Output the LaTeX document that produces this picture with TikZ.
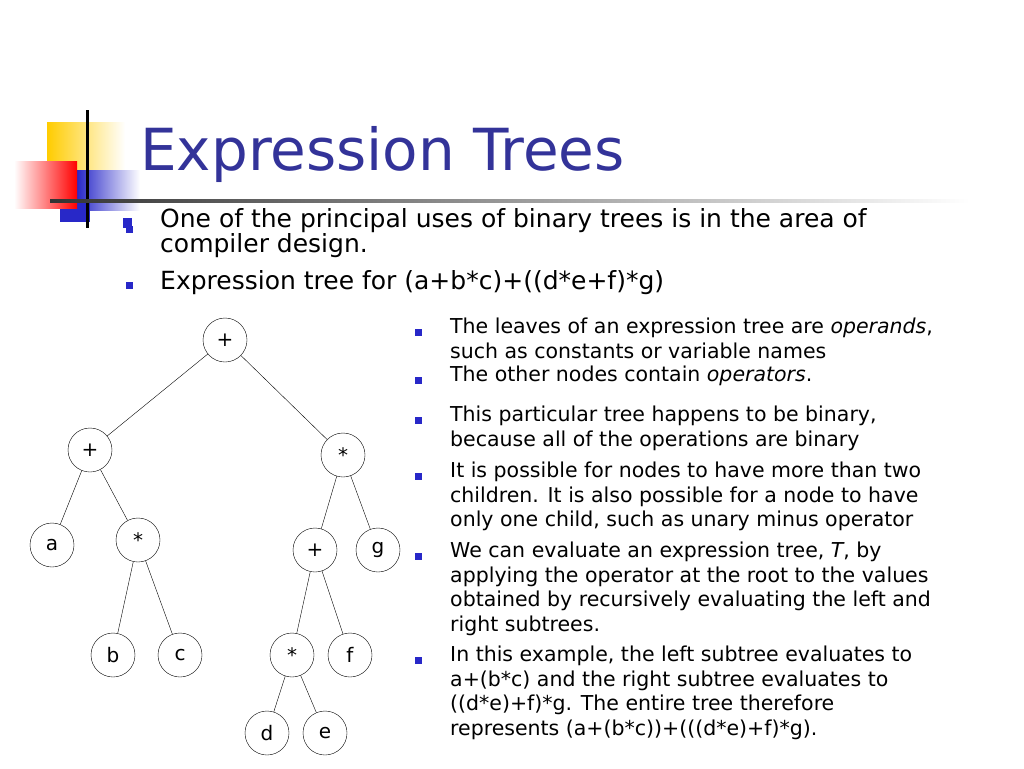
\documentclass[tikz,border=0pt]{standalone}
\usepackage{fontspec}
\setmainfont{DejaVu Sans}
\definecolor{titleblue}{RGB}{51,51,153}
\definecolor{bulletblue}{RGB}{40,40,200}
\definecolor{logoyellow}{RGB}{255,204,0}
\tikzset{
  tnode/.style={circle,draw,thin,minimum size=44pt,inner sep=0pt,font=\fontsize{20pt}{20pt}\selectfont},
  bul/.style={fill=bulletblue,minimum size=7pt,inner sep=0pt},
  para/.style={anchor=north west,align=left,inner sep=0pt,font=\fontsize{20.5pt}{24.5pt}\selectfont},
  toppara/.style={anchor=north west,align=left,inner sep=0pt,font=\fontsize{25pt}{24pt}\selectfont}
}
\begin{document}
\begin{tikzpicture}[x=1pt,y=-1pt]
\useasboundingbox (0,0) rectangle (1024,768);
%% logo
\shade[left color=logoyellow,right color=white] (47,122) rectangle (125,176);
\shade[left color=bulletblue,right color=white] (77,170) rectangle (140,210);
\fill[bulletblue] (60,200) rectangle (90,222);
\fill[bulletblue] (123,218) rectangle (132,228);
\shade[left color=white,right color=red] (14,161) rectangle (77,208);
\draw[line width=3pt] (87,110) -- (87,228);
\shade[left color=black!80,right color=white] (50,199.5) rectangle (970,202.5);
%% title
\node[anchor=base west,inner sep=0pt,text=titleblue,font=\fontsize{58pt}{58pt}\selectfont] (title) at (140,170) {Expression Trees};
%% top bullets
\node[bul] (b1) at (129,229) {};
\node[toppara] (p1) at (160,208) {One of the principal uses of binary trees is in the area of\\compiler design.};
\node[bul] (b2) at (129,285) {};
\node[toppara] (p2) at (160,270) {Expression tree for (a+b*c)+((d*e+f)*g)};
%% tree
\node[tnode] (r) at (225,340) {+};
\node[tnode] (l) at (90,450) {+};
\node[tnode] (m) at (343,455) {*};
\node[tnode] (a) at (52,545) {a};
\node[tnode] (lm) at (138,540) {*};
\node[tnode] (p) at (315,550) {+};
\node[tnode] (g) at (378,550) {g};
\node[tnode] (b) at (113,655) {b};
\node[tnode] (c) at (180,655) {c};
\node[tnode] (s) at (292,655) {*};
\node[tnode] (f) at (350,655) {f};
\node[tnode] (d) at (267,733) {d};
\node[tnode] (e) at (325,733) {e};
\foreach \u/\v in {r/l,r/m,l/a,l/lm,lm/b,lm/c,m/p,m/g,p/s,p/f,s/d,s/e}
  \draw[thin] (\u) -- (\v);
%% right column
\foreach \y in {332,380,420,476,556,660}
  \node[bul] at (418,\y) {};
\node[para] (q1) at (450,318) {The leaves of an expression tree are \emph{operands},\\such as constants or variable names};
\node[para] (q2) at (450,366) {The other nodes contain \emph{operators}.};
\node[para] (q3) at (450,406) {This particular tree happens to be binary,\\because all of the operations are binary};
\node[para] (q4) at (450,462) {It is possible for nodes to have more than two\\children. It is also possible for a node to have\\only one child, such as unary minus operator};
\node[para] (q5) at (450,542) {We can evaluate an expression tree, \emph{T}, by\\applying the operator at the root to the values\\obtained by recursively evaluating the left and\\right subtrees.};
\node[para] (q6) at (450,646) {In this example, the left subtree evaluates to\\a+(b*c) and the right subtree evaluates to\\((d*e)+f)*g. The entire tree therefore\\represents (a+(b*c))+(((d*e)+f)*g).};
\end{tikzpicture}
\end{document}
